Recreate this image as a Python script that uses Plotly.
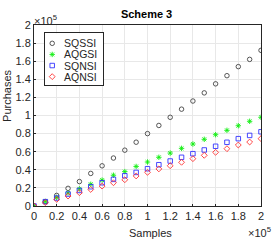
import plotly.graph_objects as go

samples = [0, 10000, 20000, 30000, 40000, 50000, 60000, 70000, 80000, 90000, 100000,
           110000, 120000, 130000, 140000, 150000, 160000, 170000, 180000, 190000, 200000]
sqssi = [0, 4800, 11700, 19500, 27000, 36000, 44400, 53000, 61700, 70500, 80000,
         89000, 98000, 107000, 116000, 125000, 135000, 144000, 154000, 162000, 172000]
aqgsi = [0, 5000, 9500, 14300, 19000, 24000, 28600, 34000, 38000, 43700, 48600,
         53800, 58500, 63700, 68500, 73700, 78800, 83600, 88700, 93600, 98000]
sqnsi = [0, 4800, 8800, 13200, 17200, 21300, 25700, 29400, 33400, 37100, 41200,
         45600, 49700, 53800, 57800, 61900, 66000, 70400, 74400, 78000, 82000]
aqnsi = [0, 3700, 7300, 11000, 14700, 18300, 22000, 25700, 29000, 33200, 37200,
         41000, 44500, 48300, 52300, 56000, 59300, 63300, 67400, 70700, 74400]

series_names = ["SQSSI", "AQGSI", "SQNSI", "AQNSI"]
series_values = [sqssi, aqgsi, sqnsi, aqnsi]

xtick_vals = [0, 20000, 40000, 60000, 80000, 100000, 120000, 140000, 160000, 180000, 200000]
xtick_text = ["0", "0.2", "0.4", "0.6", "0.8", "1", "1.2", "1.4", "1.6", "1.8", "2"]
ytick_vals = xtick_vals
ytick_text = xtick_text

symbols = ["circle-open", "asterisk-open", "square-open", "diamond-open"]
colors = ["#444444", "#11ee11", "#3333ff", "#ff3333"]

fig = go.Figure()
for name, ys, sym, col in zip(series_names, series_values, symbols, colors):
    fig.add_trace(go.Scatter(
        x=samples, y=ys, mode="markers", name=name, showlegend=False,
        marker=dict(symbol=sym, size=4.5, color=col, line=dict(color=col, width=0.9)),
        xaxis="x", yaxis="y",
    ))

# legend drawn as a small inset subplot
for i, (name, sym, col) in enumerate(zip(series_names, symbols, colors)):
    fig.add_trace(go.Scatter(
        x=[0.125], y=[i], mode="markers", showlegend=False, hoverinfo="skip",
        marker=dict(symbol=sym, size=4.5, color=col, line=dict(color=col, width=0.9)),
        xaxis="x2", yaxis="y2",
    ))

font = "Liberation Sans, Arial, sans-serif"
ink = "#262626"
legend_ann = [
    dict(text=name, xref="x2", yref="y2", x=0.30, y=i, xanchor="left", yanchor="middle",
         showarrow=False, font=dict(size=10.5, color=ink))
    for i, name in enumerate(series_names)
]

fig.update_layout(
    width=275, height=240,
    margin=dict(l=34, r=14, t=25, b=34, autoexpand=False),
    paper_bgcolor="white", plot_bgcolor="white",
    font=dict(family=font, size=11, color=ink),
    title=dict(text="<b>Scheme 3</b>", x=0.533, xanchor="center", y=0.942, yanchor="middle",
               font=dict(size=11, color="black")),
    showlegend=False,
    xaxis=dict(range=[0, 200000], tickvals=xtick_vals, ticktext=xtick_text,
               showgrid=True, gridcolor="#e8e8e8", gridwidth=1, automargin=False,
               showline=True, linecolor=ink, linewidth=1, mirror=True,
               ticks="inside", ticklen=2, tickcolor=ink, zeroline=False,
               domain=[0, 1]),
    yaxis=dict(range=[0, 200000], tickvals=ytick_vals, ticktext=ytick_text,
               showgrid=True, gridcolor="#e8e8e8", gridwidth=1, automargin=False,
               showline=True, linecolor=ink, linewidth=1, mirror=True,
               ticks="inside", ticklen=2, tickcolor=ink, zeroline=False,
               domain=[0, 1]),
    xaxis2=dict(domain=[0.048, 0.306], range=[0, 1], anchor="y2",
                showgrid=False, zeroline=False, showticklabels=False, ticks="",
                showline=True, mirror=True, linecolor=ink, linewidth=1, fixedrange=True),
    yaxis2=dict(domain=[0.668, 0.954], range=[3.76, -0.9], anchor="x2",
                showgrid=False, zeroline=False, showticklabels=False, ticks="",
                showline=True, mirror=True, linecolor=ink, linewidth=1, fixedrange=True),
    annotations=legend_ann + [
        dict(text="Samples", xref="paper", yref="paper", x=0.515, y=-0.149,
             xanchor="center", yanchor="middle", showarrow=False,
             font=dict(size=11, color=ink)),
        dict(text="Purchases", xref="paper", yref="paper", x=-0.119, y=0.608,
             xanchor="center", yanchor="middle", textangle=-90, showarrow=False,
             font=dict(size=11, color=ink)),
        dict(text="×10<sup>5</sup>", xref="paper", yref="paper", x=-0.009, y=1.028,
             xanchor="left", yanchor="middle", showarrow=False,
             font=dict(size=11, color=ink)),
        dict(text="×10<sup>5</sup>", xref="paper", yref="paper", x=1.053, y=-0.144,
             xanchor="right", yanchor="middle", showarrow=False,
             font=dict(size=11, color=ink)),
    ],
)

fig.write_html("out.html", config={"displayModeBar": False},
               post_script="document.body.style.margin='0px';")
